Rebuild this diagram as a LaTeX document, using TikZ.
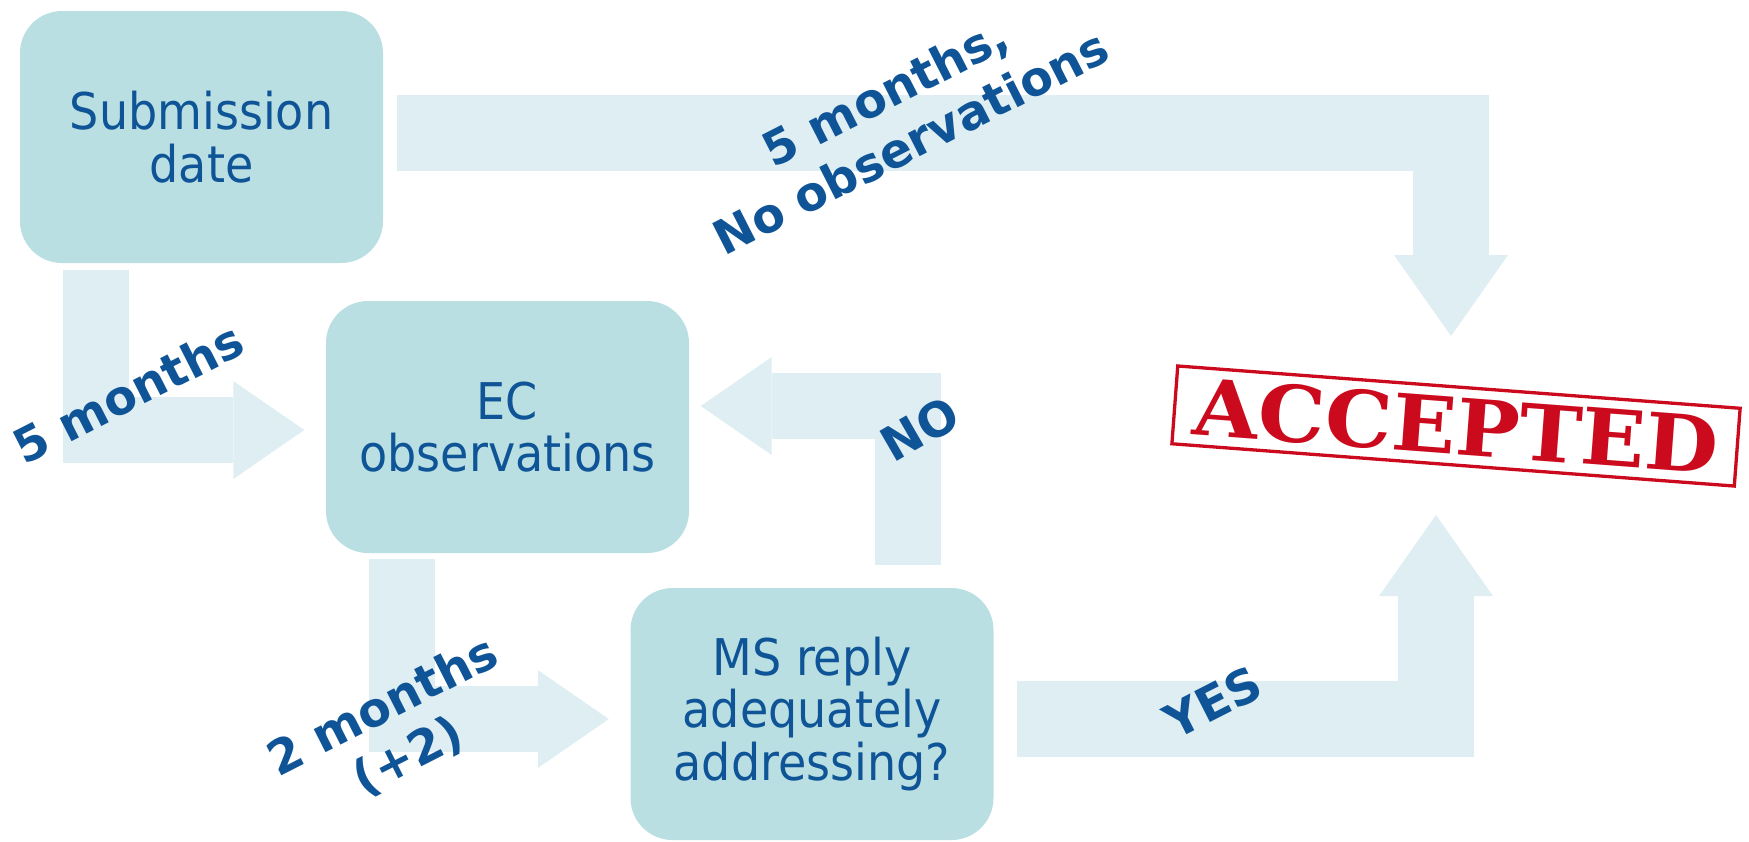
\documentclass[tikz,border=0pt]{standalone}
\usepackage{fontspec}
\setmainfont{DejaVu Sans}
\newfontfamily\boxfont[FakeStretch=0.91]{DejaVu Sans}
\newfontfamily\stampfont[FakeStretch=1.08]{DejaVu Serif}
\usetikzlibrary{arrows.meta}

\definecolor{boxfill}{RGB}{185,223,226}
\definecolor{flowfill}{RGB}{222,238,242}
\definecolor{textblue}{RGB}{14,84,150}
\definecolor{stampred}{RGB}{204,10,30}

\begin{document}
\begin{tikzpicture}[
    x=0.1mm, y=-0.1mm,
    stage/.style={
        rectangle,
        rounded corners=4.2mm,
        fill=boxfill,
        minimum width=36.3mm,
        minimum height=25.2mm,
        align=center,
        text=textblue,
        font=\boxfont\fontsize{14.4}{15}\selectfont
    },
    flow/.style={
        draw=flowfill,
        line width=6.6mm,
        -{Triangle[length=7.1mm,width=9.8mm,line width=0pt]}
    },
    flowwide/.style={
        draw=flowfill,
        line width=7.6mm,
        -{Triangle[length=8.1mm,width=11.4mm,line width=0pt]}
    },
    delay/.style={
        text=textblue,
        align=center,
        font=\bfseries\fontsize{13.5}{16}\selectfont,
        rotate=27
    },
    stamp/.style={
        rectangle,
        draw=stampred,
        line width=0.33mm,
        text=stampred,
        inner sep=0pt,
        minimum width=56.4mm,
        minimum height=7.8mm,
        font=\stampfont\bfseries\fontsize{22.2}{22.2}\selectfont
    }
]
\useasboundingbox (0,0) rectangle (1749,841);

% Stages
\node[stage] (sub) at (201.5,137) {Submission\\date};
\node[stage] (ec) at (507.5,427) {EC\\observations};
\node[stage] (ms) at (812,714) {MS reply\\adequately\\addressing?};

% Outcome
\node[stamp, rotate=-4.3] (acc) at (1456,426) {ACCEPTED};

% Flows
\draw[flowwide] ([shift={(13,-4)}]sub.east) -| ([shift={(-5,-90)}]acc.center);
\draw[flow] ([shift={(-105.5,6)}]sub.south) |- ([shift={(-21,3)}]ec.west);
\draw[flow] ([shift={(96,-22)}]ms.north) |- ([shift={(11,-21)}]ec.east);
\draw[flow] ([shift={(-105.5,5)}]ec.south) |- ([shift={(-21,5)}]ms.west);
\draw[flowwide] ([shift={(23,5)}]ms.east) -| ([shift={(-20,89)}]acc.center);

% Delays
\node[delay] (noobs) at (898,117) {5 months,\\No observations};
\node[delay] (fivem) at (128,393) {5 months};
\node[delay] (twom) at (396,732) {2 months\\(+2)};
\node[delay, rotate=3] (no) at (920,429) {NO};
\node[delay] (yes) at (1213,702) {YES};

\end{tikzpicture}
\end{document}
